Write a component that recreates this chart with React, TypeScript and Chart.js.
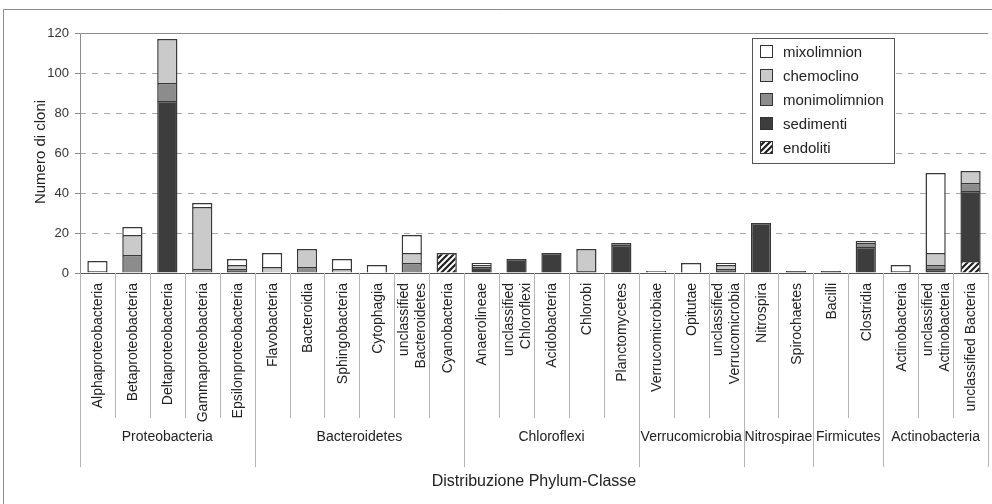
import React, { useEffect, useRef } from 'react';
import { Chart, registerables } from 'chart.js';

Chart.register(...registerables);

const FONT = '"Liberation Sans", Arial, Helvetica, sans-serif';

// Category (class) labels, one array entry per text line
const categories: string[][] = [
  ['Alphaproteobacteria'], ['Betaproteobacteria'], ['Deltaproteobacteria'], ['Gammaproteobacteria'], ['Epsilonproteobacteria'],
  ['Flavobacteria'], ['Bacteroidia'], ['Sphingobacteria'], ['Cytophagia'], ['unclassified', 'Bacteroidetes'], ['Cyanobacteria'],
  ['Anaerolineae'], ['unclassified', 'Chloroflexi'], ['Acidobacteria'], ['Chlorobi'], ['Planctomycetes'],
  ['Verrucomicrobiae'], ['Opitutae'], ['unclassified', 'Verrucomicrobia'],
  ['Nitrospira'], ['Spirochaetes'],
  ['Bacilli'], ['Clostridia'],
  ['Actinobacteria'], ['unclassified', 'Actinobacteria'], ['unclassified Bacteria'],
];

// Phylum groups and how many classes each spans
const groups = ['Proteobacteria', 'Bacteroidetes', 'Chloroflexi', 'Verrucomicrobia', 'Nitrospirae', 'Firmicutes', 'Actinobacteria'];
const groupSizes = [5, 6, 5, 3, 2, 2, 3];

// Series values (number of clones)
const endoliti =      [0, 0, 0, 0, 0, 0, 0, 0, 0, 0, 10, 0, 0, 0, 0, 0, 0, 0, 0, 0, 0, 0, 0, 0, 0, 6];
const sedimenti =     [0, 0, 86, 0, 1, 0, 0, 0, 0, 0, 0, 3, 7, 10, 1, 14, 0, 0, 1, 25, 1, 1, 13, 0, 2, 35];
const monimolimnion = [0, 9, 9, 2, 1, 0, 3, 0, 0, 5, 0, 0, 0, 0, 0, 1, 0, 0, 1, 0, 0, 0, 2, 0, 2, 4];
const chemoclino =    [1, 10, 22, 31, 2, 3, 9, 2, 0, 5, 0, 1, 0, 0, 11, 0, 0, 0, 2, 0, 0, 0, 1, 1, 6, 6];
const mixolimnion =   [5, 4, 0, 2, 3, 7, 0, 5, 4, 9, 0, 1, 0, 0, 0, 0, 1, 5, 1, 0, 0, 0, 0, 3, 40, 0];

const yMin = 0;
const yMax = 120;
const yStep = 20;

const xTitle = 'Distribuzione Phylum-Classe';
const yTitle = 'Numero di cloni';

function makeHatch(): CanvasPattern | string {
  const c = document.createElement('canvas');
  const s = 6;
  c.width = s;
  c.height = s;
  const g = c.getContext('2d');
  if (!g) return '#888';
  g.fillStyle = '#ffffff';
  g.fillRect(0, 0, s, s);
  g.strokeStyle = '#1e1e1e';
  g.lineWidth = 2.2;
  g.beginPath();
  g.moveTo(-1, s + 1); g.lineTo(s + 1, -1);
  g.moveTo(-s / 2 - 1, s / 2 + 1); g.lineTo(s / 2 + 1, -s / 2 - 1);
  g.moveTo(s / 2 - 1, s * 1.5 + 1); g.lineTo(s * 1.5 + 1, s / 2 - 1);
  g.stroke();
  const p = g.createPattern(c, 'repeat');
  return p || '#888';
}

const decor = {
  id: 'decor',
  beforeDraw(chart: any) {
    const ctx = chart.ctx as CanvasRenderingContext2D;
    ctx.save();
    ctx.fillStyle = '#ffffff';
    ctx.fillRect(0, 0, chart.width, chart.height);
    // outer frame
    ctx.strokeStyle = '#8c8c8c';
    ctx.lineWidth = 1;
    ctx.beginPath();
    ctx.moveTo(3.5, chart.height);
    ctx.lineTo(3.5, 9.5);
    ctx.lineTo(chart.width, 9.5);
    ctx.stroke();
    ctx.restore();
  },
  afterDraw(chart: any) {
    const ctx = chart.ctx as CanvasRenderingContext2D;
    const area = chart.chartArea;
    const xs = chart.scales.x;
    const n = categories.length;
    const half = (xs.getPixelForValue(1) - xs.getPixelForValue(0)) / 2;
    ctx.save();

    // plot area frame (top, left)
    ctx.strokeStyle = '#8c8c8c';
    ctx.lineWidth = 1;
    ctx.beginPath();
    ctx.moveTo(Math.round(area.left) + 0.5, area.bottom);
    ctx.lineTo(Math.round(area.left) + 0.5, Math.round(area.top) + 0.5);
    ctx.lineTo(area.right, Math.round(area.top) + 0.5);
    ctx.stroke();

    // category separators
    const groupEnds = new Set<number>();
    let acc = 0;
    groupEnds.add(0);
    groupSizes.forEach((g) => { acc += g; groupEnds.add(acc); });
    ctx.strokeStyle = '#b4b4b4';
    ctx.lineWidth = 1;
    for (let i = 0; i <= n; i++) {
      const px = i < n ? xs.getPixelForValue(i) - half : xs.getPixelForValue(n - 1) + half;
      const x = Math.round(px) + 0.5;
      const y2 = groupEnds.has(i) ? area.bottom + 194 : area.bottom + 145;
      ctx.beginPath();
      ctx.moveTo(x, area.bottom);
      ctx.lineTo(x, y2);
      ctx.stroke();
    }

    // category labels (rotated)
    ctx.fillStyle = '#222';
    ctx.font = `14px ${FONT}`;
    ctx.textAlign = 'right';
    ctx.textBaseline = 'middle';
    const lh = 17;
    categories.forEach((lines, i) => {
      const px = xs.getPixelForValue(i);
      lines.forEach((t, j) => {
        const cx = px + (j - (lines.length - 1) / 2) * lh + 1;
        ctx.save();
        ctx.translate(cx, area.bottom + 10);
        ctx.rotate(-Math.PI / 2);
        ctx.fillText(t, 0, 0);
        ctx.restore();
      });
    });

    // group labels
    ctx.textAlign = 'center';
    ctx.font = `14px ${FONT}`;
    let start = 0;
    groups.forEach((g, k) => {
      const end = start + groupSizes[k] - 1;
      const cx = (xs.getPixelForValue(start) + xs.getPixelForValue(end)) / 2;
      ctx.fillText(g, cx, area.bottom + 164);
      start = end + 1;
    });

    // axis titles
    ctx.font = `16px ${FONT}`;
    ctx.fillText(xTitle, (area.left + area.right) / 2 + 0, area.bottom + 209);
    ctx.save();
    ctx.font = `15px ${FONT}`;
    ctx.translate(41, 152);
    ctx.rotate(-Math.PI / 2);
    ctx.fillText(yTitle, 0, 0);
    ctx.restore();

    // legend
    const lx = 752.5, ly = 38.5, lw = 142, lhgt = 125;
    ctx.fillStyle = '#ffffff';
    ctx.fillRect(lx, ly, lw, lhgt);
    ctx.strokeStyle = '#555';
    ctx.lineWidth = 1;
    ctx.strokeRect(lx, ly, lw, lhgt);
    const ds = [...chart.data.datasets].reverse();
    ctx.font = `15px ${FONT}`;
    ctx.textAlign = 'left';
    ds.forEach((d: any, k: number) => {
      const cy = 52 + k * 24;
      ctx.fillStyle = d.backgroundColor;
      ctx.fillRect(760.5, cy - 6.5, 12, 12);
      ctx.strokeStyle = '#333';
      ctx.strokeRect(760.5, cy - 6.5, 12, 12);
      ctx.fillStyle = '#222';
      ctx.fillText(d.label, 783, cy + 1);
    });

    ctx.restore();
  },
};

export default function App() {
  const ref = useRef<HTMLCanvasElement>(null);

  useEffect(() => {
    if (!ref.current) return;
    const hatch = makeHatch();
    const border = '#383838';
    const common = { borderColor: border, borderWidth: 1.5, barPercentage: 0.58, categoryPercentage: 1 };
    const chart = new Chart(ref.current, {
      type: 'bar',
      data: {
        labels: categories.map((c) => c.join(' ')),
        datasets: [
          { label: 'endoliti', data: endoliti, backgroundColor: hatch as any, ...common },
          { label: 'sedimenti', data: sedimenti, backgroundColor: '#3d3d3d', ...common },
          { label: 'monimolimnion', data: monimolimnion, backgroundColor: '#8c8c8c', ...common },
          { label: 'chemoclino', data: chemoclino, backgroundColor: '#cacaca', ...common },
          { label: 'mixolimnion', data: mixolimnion, backgroundColor: '#ffffff', ...common },
        ],
      },
      options: {
        responsive: false,
        devicePixelRatio: 1,
        animation: false,
        layout: { padding: { top: 33, right: 4, left: 0, bottom: 0 } },
        plugins: { legend: { display: false }, tooltip: { enabled: false } },
        scales: {
          x: {
            stacked: true,
            offset: true,
            grid: { display: false },
            ticks: { display: false },
            border: { display: true, color: '#555', width: 1 },
            afterFit: (s: any) => { s.height = 231; },
          },
          y: {
            stacked: true,
            min: yMin,
            max: yMax,
            ticks: { stepSize: yStep, font: { family: FONT, size: 13 }, color: '#333', padding: 6 },
            grid: {
              color: (c: any) => (c.tick && (c.tick.value === yMin || c.tick.value === yMax) ? 'rgba(0,0,0,0)' : '#a8a8a8'),
              tickColor: '#888',
              tickLength: 5,
              lineWidth: 1,
            },
            border: { display: false, dash: [6, 6] },
            afterFit: (s: any) => { s.width = 80; },
          },
        },
      },
      plugins: [decor],
    });
    return () => chart.destroy();
  }, []);

  return (
    <div style={{ position: 'fixed', left: 0, top: 0, width: 992, height: 504, background: '#fff' }}>
      <canvas ref={ref} width={992} height={504} style={{ display: 'block', width: 992, height: 504 }} />
    </div>
  );
}
